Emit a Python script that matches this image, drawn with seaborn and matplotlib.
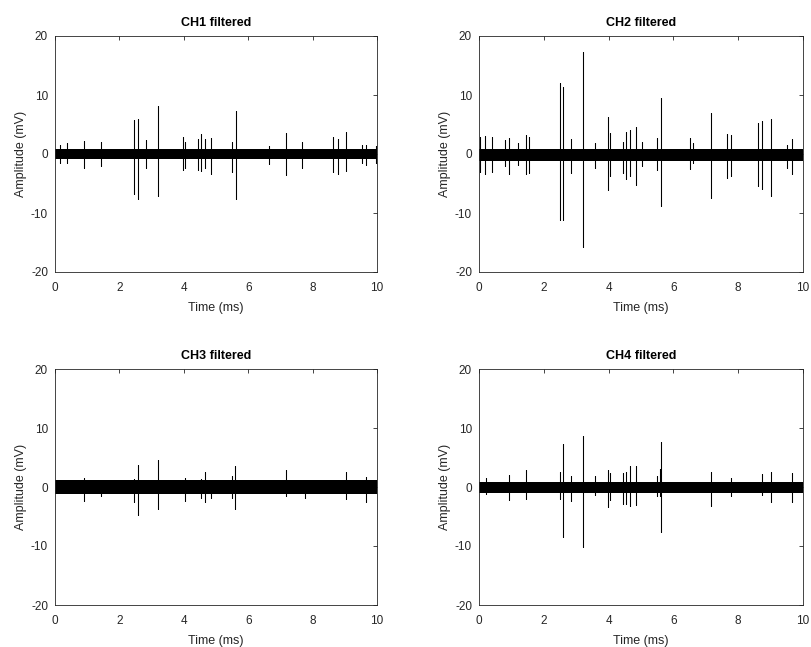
import numpy as np
import pandas as pd
import matplotlib
matplotlib.use("Agg")
import matplotlib.pyplot as plt
import seaborn as sns

titles = ["CH1 filtered", "CH2 filtered", "CH3 filtered", "CH4 filtered"]

# spike times (ms), positive peaks and negative troughs (mV)
ch1_t = [0.16, 0.37, 0.89, 1.44, 2.46, 2.57, 2.82, 3.21, 3.98, 4.03, 4.43, 4.54, 4.67,
         4.84, 5.49, 5.61, 6.64, 7.16, 7.67, 8.62, 8.78, 9.04, 9.53, 9.66, 9.96]
ch1_hi = [1.5, 1.8, 2.2, 2.0, 5.8, 5.9, 2.3, 8.2, 2.8, 2.1, 2.5, 3.4, 2.5,
          2.7, 2.1, 7.3, 1.4, 3.6, 2.0, 2.8, 2.5, 3.7, 1.5, 1.6, 1.4]
ch1_lo = [-1.5, -1.6, -2.4, -2.0, -6.7, -7.7, -2.4, -7.2, -2.7, -2.3, -2.7, -2.8, -2.3,
          -3.4, -3.1, -7.6, -1.7, -3.6, -2.3, -3.1, -3.4, -2.9, -1.5, -1.8, -1.6]

ch2_t = [0.02, 0.18, 0.39, 0.80, 0.92, 1.21, 1.46, 1.54, 2.49, 2.58, 2.83, 3.22, 3.58,
         3.98, 4.03, 4.43, 4.55, 4.67, 4.85, 5.02, 5.49, 5.62, 6.51, 6.61, 7.15, 7.66,
         7.78, 8.60, 8.74, 9.01, 9.50, 9.65]
ch2_hi = [2.9, 3.05, 2.8, 2.4, 2.7, 1.9, 3.3, 2.9, 12.0, 11.4, 2.5, 17.3, 1.8,
          6.3, 3.5, 2.1, 3.8, 4.0, 4.6, 2.1, 2.7, 9.5, 2.7, 1.8, 7.0, 3.4,
          3.2, 5.3, 5.6, 5.9, 1.5, 2.5]
ch2_lo = [-3.0, -3.4, -3.0, -2.1, -3.4, -1.9, -3.4, -3.3, -11.2, -11.2, -3.2, -15.8, -2.4,
          -6.1, -3.8, -3.2, -4.3, -3.8, -5.3, -2.0, -2.7, -8.8, -2.6, -1.6, -7.4, -4.1,
          -3.8, -5.5, -6.0, -7.1, -2.3, -3.4]

ch3_t = [0.89, 1.44, 2.46, 2.57, 3.21, 4.03, 4.54, 4.67, 4.84, 5.49, 5.60, 7.16, 7.77,
         9.04, 9.66]
ch3_hi = [1.6, 1.2, 1.3, 3.7, 4.6, 1.6, 1.3, 2.5, 1.2, 1.9, 3.6, 2.8, 1.2, 2.6, 1.7]
ch3_lo = [-2.4, -1.5, -2.5, -4.7, -3.8, -2.4, -1.8, -2.5, -1.8, -1.8, -3.8, -1.6, -1.9,
          -2.1, -2.5]

ch4_t = [0.23, 0.92, 1.46, 2.49, 2.58, 2.83, 3.22, 3.58, 3.98, 4.03, 4.43, 4.55, 4.67,
         4.85, 5.49, 5.58, 5.62, 7.15, 7.78, 8.74, 9.01, 9.65]
ch4_hi = [1.5, 2.0, 2.8, 2.6, 7.3, 1.9, 8.6, 1.8, 2.9, 2.3, 2.4, 2.6, 3.6,
          3.6, 1.8, 3.0, 7.7, 2.6, 1.6, 2.2, 2.6, 2.3]
ch4_lo = [-1.2, -2.2, -2.1, -2.1, -8.4, -2.3, -10.2, -1.4, -3.4, -2.2, -2.8, -2.8, -3.2,
          -3.1, -1.6, -1.5, -7.6, -3.2, -1.6, -1.3, -2.5, -2.5]

# baseline noise band: centre and half-width (mV)
band_center = [0.0, -0.2, 0.0, -0.1]
band_half = [0.85, 1.0, 1.15, 1.0]

spikes = [(ch1_t, ch1_hi, ch1_lo), (ch2_t, ch2_hi, ch2_lo),
          (ch3_t, ch3_hi, ch3_lo), (ch4_t, ch4_hi, ch4_lo)]

sns.set_style("white")
plt.rcParams["font.family"] = ["Liberation Sans", "DejaVu Sans"]
plt.rcParams["axes.unicode_minus"] = False
plt.rcParams["axes.edgecolor"] = "#262626"
plt.rcParams["axes.linewidth"] = 0.6

W, H = 811, 647
fig = plt.figure(figsize=(W / 100, H / 100), dpi=100)

boxes = [(55, 36, 322, 236), (479, 36, 324, 236),
         (55, 369, 322, 236), (479, 369, 324, 236)]

for i in range(4):
    x0, y0, w, h = boxes[i]
    ax = fig.add_axes([x0 / W, 1 - (y0 + h) / H, w / W, h / H])
    t, hi, lo = spikes[i]
    c = band_center[i]
    rows_x, rows_y = [0.0], [c]
    for tt, a, b in zip(t, hi, lo):
        rows_x += [tt, tt, tt, tt]
        rows_y += [c, a, b, c]
    rows_x.append(10.0)
    rows_y.append(c)
    df = pd.DataFrame({"time": rows_x, "amp": rows_y})
    ax.fill_between([0, 10], c - band_half[i], c + band_half[i], color="black", lw=0)
    sns.lineplot(data=df, x="time", y="amp", sort=False, estimator=None,
                 color="black", lw=0.75, ax=ax)
    ax.set_xlim(0, 10)
    ax.set_ylim(-20, 20)
    ax.set_xticks([0, 2, 4, 6, 8, 10])
    ax.set_yticks([-20, -10, 0, 10, 20])
    ax.tick_params(direction="in", top=True, right=True, length=3, width=0.6,
                   labelsize=8.5, colors="#262626")
    ax.tick_params(axis="x", pad=7)
    ax.tick_params(axis="y", pad=5)
    ax.set_xlabel("Time (ms)", fontsize=9, color="#262626", labelpad=6)
    ax.set_ylabel("Amplitude (mV)", fontsize=9, color="#262626", labelpad=3)
    ax.set_title(titles[i], fontsize=9, fontweight="bold", color="black", pad=7)
    for s in ax.spines.values():
        s.set_visible(True)
        s.set_color("#262626")
        s.set_linewidth(0.6)

fig.savefig("out.png", dpi=100)
